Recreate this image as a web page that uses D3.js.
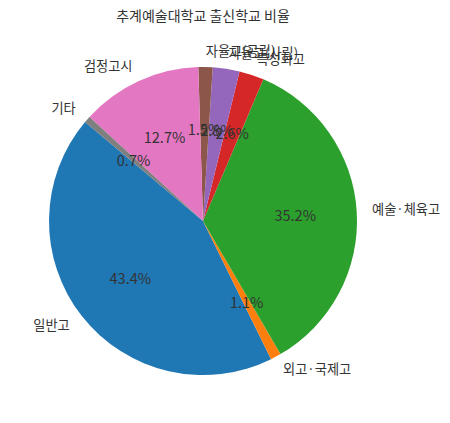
<!DOCTYPE html>
<html><head><meta charset="utf-8">
<script src="https://cdn.jsdelivr.net/npm/d3@7"></script>
<style>body{margin:0;background:#fff}text{font-family:"Noto Sans CJK KR","Noto Sans",sans-serif;fill:#333}</style>
</head><body>
<svg id="c" width="450" height="423"></svg>
<script>
const title = "추계예술대학교 출신학교 비율";
const categories = ["일반고","외고·국제고","예술·체육고","특성화고","자율고(사립)","자율고(공립)","검정고시","기타"];
const values = [43.4,1.1,35.2,2.6,2.8,1.5,12.7,0.7];
const colors = ["#1f77b4","#ff7f0e","#2ca02c","#d62728","#9467bd","#8c564b","#e377c2","#7f7f7f"];
const startDeg = 140; // matplotlib startangle, counterclockwise

const svg = d3.select("#c");
const cx = 203, cy = 221, r = 154;
const data = categories.map((c,i)=>({c, v: values[i], col: colors[i]}));
const a0 = (90 - startDeg) * Math.PI/180;
const pie = d3.pie().sort(null).value(d=>d.v).startAngle(a0).endAngle(a0 - 2*Math.PI);
const arcs = pie(data);
const arc = d3.arc().innerRadius(0).outerRadius(r);
const g = svg.append("g").attr("transform",`translate(${cx},${cy})`);
g.selectAll("path").data(arcs).join("path").attr("d",arc).attr("fill",d=>d.data.col);
const total = d3.sum(values);
arcs.forEach(d=>{
  const m = (d.startAngle + d.endAngle)/2;
  const sx = Math.sin(m), sy = -Math.cos(m);
  g.append("text").attr("x",1.1*r*sx).attr("y",1.1*r*sy - 1.5)
    .attr("text-anchor", sx>0?"start":"end").attr("dominant-baseline","central")
    .attr("font-size",13.2).text(d.data.c);
  g.append("text").attr("x",0.6*r*sx).attr("y",0.6*r*sy - 0.5)
    .attr("text-anchor","middle").attr("dominant-baseline","central")
    .attr("font-size",14.5).text((d.data.v/total*100).toFixed(1)+"%");
});
svg.append("text").attr("x",cx).attr("y",15).attr("text-anchor","middle")
  .attr("dominant-baseline","central").attr("font-size",14).text(title);
</script>
</body></html>
